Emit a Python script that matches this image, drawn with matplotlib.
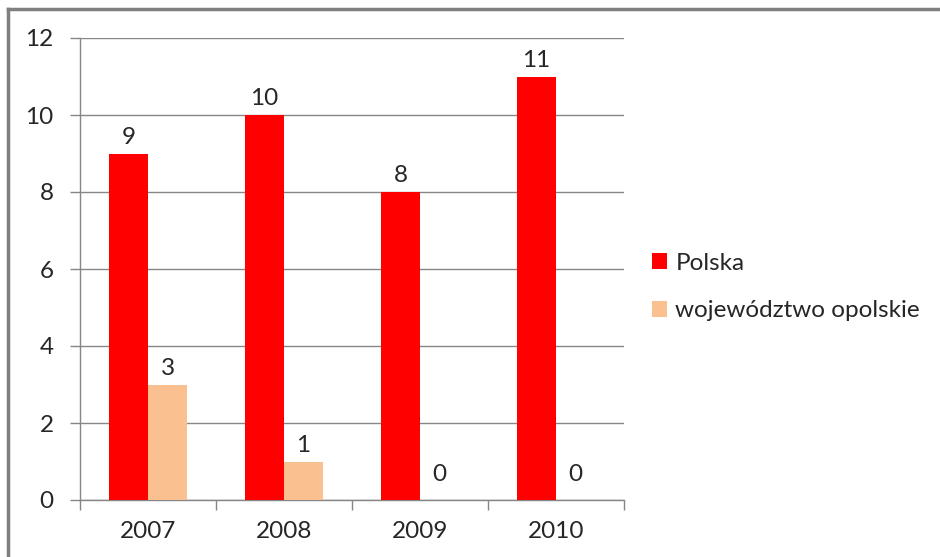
import matplotlib
matplotlib.use("Agg")
import matplotlib.pyplot as plt
import numpy as np

plt.rcParams['font.family'] = ['Lato', 'DejaVu Sans']

years = ["2007", "2008", "2009", "2010"]
polska = [9, 10, 8, 11]
opolskie = [3, 1, 0, 0]
series_names = ["Polska", "województwo opolskie"]
colors = ["#FF0000", "#FAC090"]

W, H = 940, 557
fig = plt.figure(figsize=(W / 100, H / 100), dpi=100)
ax = fig.add_axes([80 / W, 1 - 500 / H, 544 / W, 462 / H])

x = np.arange(len(years))
bw = 0.287
b1 = ax.bar(x - bw / 2, polska, bw, color=colors[0], label=series_names[0], zorder=3)
b2 = ax.bar(x + bw / 2, opolskie, bw, color=colors[1], label=series_names[1], zorder=3)

fs = 17.5
txt = "#262626"
for bars, vals in ((b1, polska), (b2, opolskie)):
    for r, v in zip(bars, vals):
        off = 11 if v == 0 else 4
        ax.annotate(str(v), (r.get_x() + r.get_width() / 2, v), xytext=(0, off),
                    textcoords="offset points", ha="center", va="bottom",
                    fontsize=fs, color=txt)

ax.set_xlim(-0.5, len(years) - 0.5)
ax.set_ylim(0, 12)
ax.set_yticks(np.arange(0, 13, 2))
ax.set_yticklabels([str(v) for v in range(0, 13, 2)], fontsize=fs, color=txt)
ax.set_xticks(x)
ax.set_xticklabels(years, fontsize=fs, color=txt)
ax.tick_params(axis="x", length=0, pad=15)
ax.set_xticks(np.arange(-0.5, len(years), 1), minor=True)
ax.tick_params(axis="x", which="minor", length=7, color="#868686", width=1)
ax.tick_params(axis="y", length=7, color="#868686", width=1, pad=12)

ax.yaxis.grid(True, color="#868686", linewidth=1, zorder=0)
for s in ("top", "right"):
    ax.spines[s].set_visible(False)
for s in ("left", "bottom"):
    ax.spines[s].set_color("#868686")
    ax.spines[s].set_linewidth(1)
ax.set_axisbelow(True)

leg = fig.legend(handles=[b1, b2], labels=series_names, loc="upper left",
                 bbox_to_anchor=(642 / W, 1 - 243 / H), frameon=False,
                 fontsize=fs, handlelength=0.62, handleheight=0.62,
                 handletextpad=0.35, labelspacing=1.1, borderaxespad=0)
for t in leg.get_texts():
    t.set_color(txt)

# outer chart frame (only top and left visible in the crop)
fig.add_artist(plt.Line2D([8 / W, 8 / W], [0, 1 - 9 / H], transform=fig.transFigure,
                          color="#7f7f7f", linewidth=2.5))
fig.add_artist(plt.Line2D([8 / W, 1], [1 - 9 / H, 1 - 9 / H], transform=fig.transFigure,
                          color="#7f7f7f", linewidth=2.5))

fig.savefig("out.png", dpi=100)
